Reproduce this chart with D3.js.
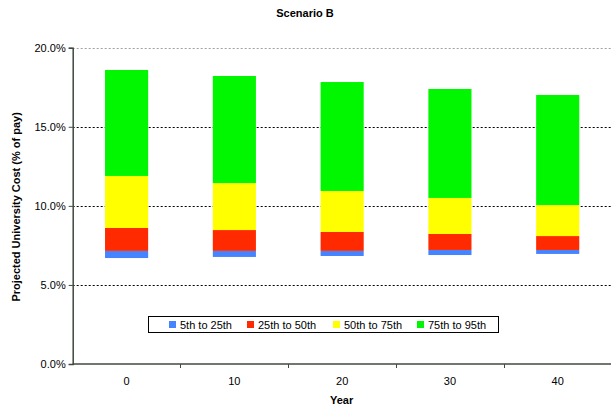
<!DOCTYPE html>
<html>
<head>
<meta charset="utf-8">
<script src="https://cdn.jsdelivr.net/npm/d3@7"></script>
<style>
  html, body { margin: 0; padding: 0; background: #fff; }
  svg { display: block; font-family: "Liberation Sans", Arial, sans-serif; }
</style>
</head>
<body>
<svg id="chart" width="611" height="409"></svg>
<script>
// Projection horizon (years)
const years = ["0", "10", "20", "30", "40"];

// Projected cost percentiles (% of pay) for each year
const p5  = [6.70, 6.77, 6.83, 6.89, 6.96];
const p25 = [7.15, 7.15, 7.15, 7.21, 7.21];
const p50 = [8.60, 8.47, 8.35, 8.22, 8.09];
const p75 = [11.89, 11.44, 10.94, 10.50, 10.05];
const p95 = [18.59, 18.21, 17.83, 17.39, 17.01];

// Bands between consecutive percentiles
const seriesNames = ["5th to 25th", "25th to 50th", "50th to 75th", "75th to 95th"];
const seriesColors = ["#4683FF", "#FF2A00", "#FFFF00", "#00F700"];
const yTicks = [0, 5, 10, 15, 20];

const bounds = [p5, p25, p50, p75, p95];
const segments = [];
seriesNames.forEach((name, s) => {
  years.forEach((yr, i) => {
    segments.push({ year: yr, series: s, lo: bounds[s][i], hi: bounds[s + 1][i] });
  });
});

const svg = d3.select("#chart");
const plotLeft = 72.7, plotRight = 611.6, plotTop = 47.7, plotBottom = 364;

const x = d3.scaleBand().domain(years).range([plotLeft, plotRight]).paddingInner(0).paddingOuter(0);
const y = d3.scaleLinear().domain([0, 20]).range([plotBottom, plotTop]);
const barW = x.bandwidth() * 0.4;

// Gridlines
svg.append("g")
  .selectAll("line")
  .data(yTicks.filter(t => t > 0))
  .join("line")
  .attr("x1", plotLeft).attr("x2", plotRight)
  .attr("y1", d => Math.round(y(d)) + 0.5).attr("y2", d => Math.round(y(d)) + 0.5)
  .attr("stroke", d => d === 20 ? "#a0a0a0" : "#000")
  .attr("stroke-width", 1)
  .attr("stroke-dasharray", "2,2");

// Stacked percentile bars
svg.append("g")
  .selectAll("rect")
  .data(segments)
  .join("rect")
  .attr("x", d => x(d.year) + (x.bandwidth() - barW) / 2)
  .attr("width", barW)
  .attr("y", d => y(d.hi))
  .attr("height", d => y(d.lo) - y(d.hi))
  .attr("fill", d => seriesColors[d.series]);

// Y axis
const yAxis = d3.axisLeft(y)
  .tickValues(yTicks)
  .tickSize(4)
  .tickPadding(3)
  .tickFormat(d => d3.format(".1f")(d) + "%");
const gy = svg.append("g")
  .attr("transform", `translate(${plotLeft},0)`)
  .call(yAxis);
gy.select(".domain").attr("stroke", "#404840").attr("stroke-width", 1.5);
gy.selectAll(".tick line").attr("stroke", "#404840");
gy.selectAll(".tick text").attr("font-size", 11).attr("fill", "#000")
  .attr("font-family", "Liberation Sans, Arial, sans-serif");

// X axis: ticks sit on category boundaries
const gx = svg.append("g").attr("transform", `translate(0,${plotBottom})`);
gx.append("line")
  .attr("x1", plotLeft).attr("x2", plotRight)
  .attr("y1", 0).attr("y2", 0)
  .attr("stroke", "#404840").attr("stroke-width", 1.5);
gx.selectAll("line.tk")
  .data(years.slice(1))
  .join("line")
  .attr("class", "tk")
  .attr("x1", d => Math.round(x(d)) + 0.5).attr("x2", d => Math.round(x(d)) + 0.5)
  .attr("y1", 0).attr("y2", 4)
  .attr("stroke", "#404840");
gx.selectAll("text")
  .data(years)
  .join("text")
  .attr("x", d => x(d) + x.bandwidth() / 2)
  .attr("y", 21)
  .attr("text-anchor", "middle")
  .attr("font-size", 11)
  .text(d => d);

// Titles
svg.append("text")
  .attr("x", 305).attr("y", 17)
  .attr("text-anchor", "middle")
  .attr("font-size", 11).attr("font-weight", "bold")
  .text("Scenario B");

svg.append("text")
  .attr("x", (plotLeft + plotRight) / 2 - 0.5).attr("y", 404)
  .attr("text-anchor", "middle")
  .attr("font-size", 11).attr("font-weight", "bold")
  .text("Year");

svg.append("text")
  .attr("transform", `translate(20,${(plotTop + plotBottom) / 2 + 1}) rotate(-90)`)
  .attr("text-anchor", "middle")
  .attr("font-size", 11).attr("font-weight", "bold")
  .text("Projected University Cost (% of pay)");

// Legend
const legend = svg.append("g");
legend.append("rect")
  .attr("x", 148.5).attr("y", 316.5)
  .attr("width", 350).attr("height", 16)
  .attr("fill", "#fff").attr("stroke", "#000").attr("stroke-width", 1);
const legendX = [169, 247, 333, 417];
const items = legend.selectAll("g.item")
  .data(seriesNames)
  .join("g")
  .attr("class", "item")
  .attr("transform", (d, i) => `translate(${legendX[i]},0)`);
items.append("rect")
  .attr("x", 0).attr("y", 321)
  .attr("width", 7).attr("height", 7)
  .attr("fill", (d, i) => seriesColors[i]);
items.append("text")
  .attr("x", 11).attr("y", 328.5)
  .attr("font-size", 11)
  .text(d => d);
</script>
</body>
</html>
